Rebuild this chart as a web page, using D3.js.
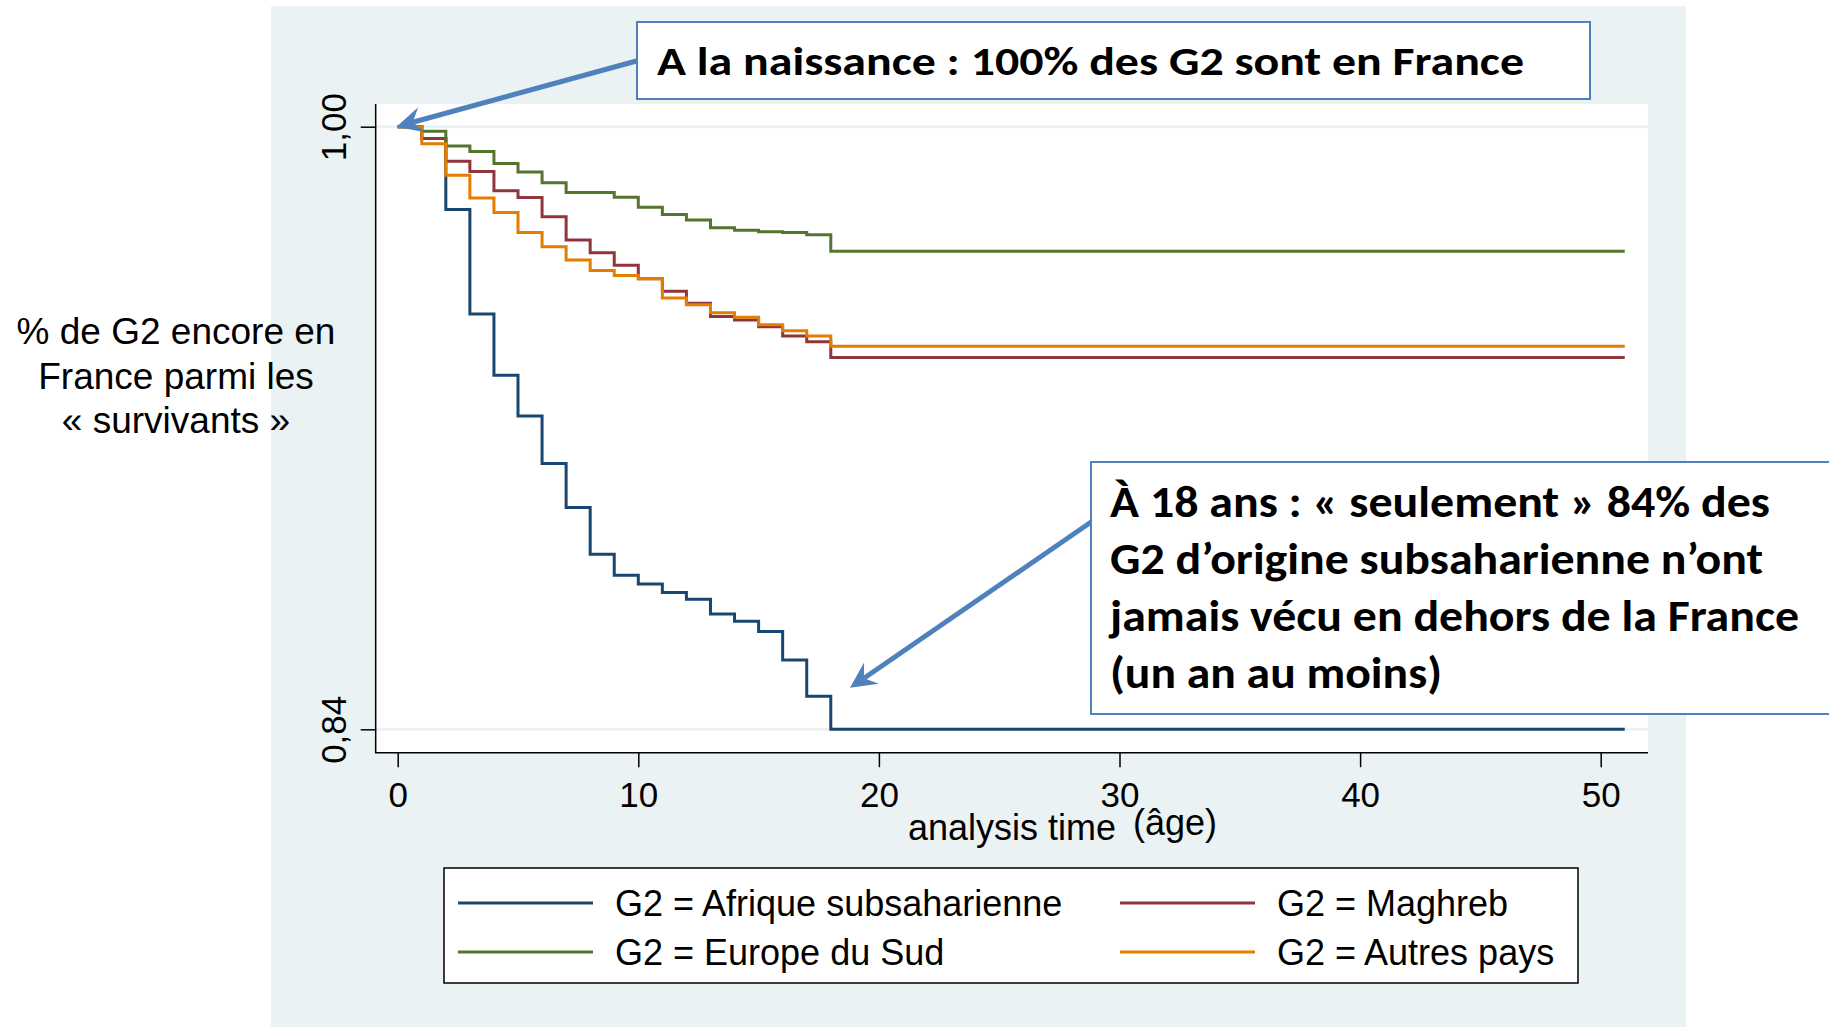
<!DOCTYPE html>
<html>
<head>
<meta charset="utf-8">
<script src="https://cdn.jsdelivr.net/npm/d3@7"></script>
<style>
  body { margin: 0; background: #ffffff; }
  svg { display: block; }
</style>
</head>
<body>
<svg id="chart" width="1829" height="1027"></svg>
<script>
// Kaplan-Meier style curves: share of G2 never lived outside France, by age

var ages = [0, 1, 2, 3, 4, 5, 6, 7, 8, 9, 10, 11, 12, 13, 14, 15, 16, 17, 18];
var lastAge = 51; // curves stay flat until here

var afrique   = [1, 0.9969, 0.9780, 0.9503, 0.9340, 0.9232, 0.9106, 0.8989, 0.8865, 0.8809, 0.8786, 0.8763, 0.8745, 0.8706, 0.8687, 0.8660, 0.8584, 0.8488, 0.8400];
var maghreb   = [1, 0.9969, 0.9908, 0.9881, 0.9830, 0.9812, 0.9761, 0.9699, 0.9665, 0.9632, 0.9596, 0.9563, 0.9531, 0.9496, 0.9487, 0.9469, 0.9444, 0.9429, 0.9387];
var europeSud = [1, 0.9988, 0.9949, 0.9934, 0.9902, 0.9880, 0.9851, 0.9825, 0.9825, 0.9813, 0.9786, 0.9767, 0.9752, 0.9732, 0.9725, 0.9721, 0.9719, 0.9713, 0.9669];
var autres    = [1, 0.9955, 0.9871, 0.9811, 0.9772, 0.9719, 0.9681, 0.9646, 0.9618, 0.9605, 0.9596, 0.9545, 0.9527, 0.9506, 0.9494, 0.9474, 0.9458, 0.9444, 0.9417];

var seriesNames  = ["G2 = Afrique subsaharienne", "G2 = Maghreb", "G2 = Europe du Sud", "G2 = Autres pays"];
var seriesValues = [afrique, maghreb, europeSud, autres];
var seriesColors = ["#1a476f", "#90353b", "#55752f", "#e37e00"];

var xTicks = [0, 10, 20, 30, 40, 50];
var yTicks = [0.84, 1.00];

var yTitle = ["% de G2 encore en", "France parmi les", "« survivants »"];
var note1 = "A la naissance : 100% des G2 sont en France";
var note2 = ["À 18 ans : « seulement » 84% des",
             "G2 d’origine subsaharienne n’ont",
             "jamais vécu en dehors de la France",
             "(un an au moins)"];

var BG = "#eaf2f3";
var NOTE_BLUE = "#4f81bd";
var STATA_FONT = "'Liberation Sans', Arial, Helvetica, sans-serif";
var NOTE_FONT = "Carlito, Calibri, 'Open Sans', sans-serif";

// plot region (white area of the Stata graph)
var PLOT_L = 375.7, PLOT_R = 1648, PLOT_T = 104, PLOT_B = 752.7;

var svg = d3.select("#chart");

var x = d3.scaleLinear().domain([0, 50]).range([397.7, 1600.7]);
var y = d3.scaleLinear().domain([0.84, 1.00]).range([729.3, 126.7]);

// graph region background
svg.append("rect")
    .attr("x", 271).attr("y", 6)
    .attr("width", 1686 - 271).attr("height", 1027 - 6)
    .attr("fill", BG);

svg.append("rect")
    .attr("x", PLOT_L).attr("y", PLOT_T)
    .attr("width", PLOT_R - PLOT_L).attr("height", PLOT_B - PLOT_T)
    .attr("fill", "#ffffff");

// gridlines at the labelled ticks
svg.append("g").selectAll("line")
    .data(yTicks)
    .enter()
    .append("line")
    .attr("x1", PLOT_L).attr("x2", PLOT_R)
    .attr("y1", function(d) { return y(d); })
    .attr("y2", function(d) { return y(d); })
    .attr("stroke", BG)
    .attr("stroke-width", 3);

// step curves
var stepLine = d3.line()
    .x(function(d) { return x(d[0]); })
    .y(function(d) { return y(d[1]); })
    .curve(d3.curveStepAfter);

svg.append("g").selectAll("path")
    .data(seriesValues)
    .enter()
    .append("path")
    .attr("d", function(vals) {
        var pts = ages.map(function(a, i) { return [a, vals[i]]; });
        pts.push([lastAge, vals[vals.length - 1]]);
        return stepLine(pts);
    })
    .attr("fill", "none")
    .attr("stroke", function(d, i) { return seriesColors[i]; })
    .attr("stroke-width", 3);

// axes
var yAxis = d3.axisLeft(y)
    .tickValues(yTicks)
    .tickSize(15)
    .tickFormat(function(d) { return d3.format(".2f")(d).replace(".", ","); });

var gy = svg.append("g")
    .attr("transform", "translate(" + PLOT_L + ",0)")
    .call(yAxis);
gy.select(".domain").remove();
gy.selectAll(".tick line").attr("stroke", "#000").attr("stroke-width", 1.5);
gy.selectAll(".tick text")
    .attr("transform", "rotate(-90)")
    .attr("x", 0).attr("y", -30).attr("dy", 0)
    .attr("text-anchor", "middle")
    .attr("fill", "#000")
    .style("font-family", STATA_FONT)
    .style("font-size", "35px");

var xAxis = d3.axisBottom(x)
    .tickValues(xTicks)
    .tickSize(14.5)
    .tickFormat(d3.format("d"));

var gx = svg.append("g")
    .attr("transform", "translate(0," + PLOT_B + ")")
    .call(xAxis);
gx.select(".domain").remove();
gx.selectAll(".tick line").attr("stroke", "#000").attr("stroke-width", 1.5);
gx.selectAll(".tick text")
    .attr("y", 54.5).attr("dy", 0)
    .attr("fill", "#000")
    .style("font-family", STATA_FONT)
    .style("font-size", "35px");

// axis lines span the whole plot region
svg.append("line")
    .attr("x1", PLOT_L).attr("x2", PLOT_L)
    .attr("y1", PLOT_T).attr("y2", PLOT_B)
    .attr("stroke", "#000").attr("stroke-width", 1.5);
svg.append("line")
    .attr("x1", PLOT_L - 0.75).attr("x2", PLOT_R)
    .attr("y1", PLOT_B).attr("y2", PLOT_B)
    .attr("stroke", "#000").attr("stroke-width", 1.5);

// x title (Stata) + added "(âge)"
svg.append("text")
    .attr("x", 908).attr("y", 840)
    .style("font-family", STATA_FONT).style("font-size", "36px")
    .text("analysis time");
svg.append("text")
    .attr("x", 1133).attr("y", 835)
    .style("font-family", STATA_FONT).style("font-size", "36px")
    .text("(âge)");

// y title, written on the slide
svg.append("g").selectAll("text")
    .data(yTitle)
    .enter()
    .append("text")
    .attr("x", 176)
    .attr("y", function(d, i) { return 344 + i * 44.5; })
    .attr("text-anchor", "middle")
    .style("font-family", STATA_FONT).style("font-size", "37px")
    .text(function(d) { return d; });

// legend
var legend = svg.append("g");
legend.append("rect")
    .attr("x", 444).attr("y", 868)
    .attr("width", 1578 - 444).attr("height", 983 - 868)
    .attr("fill", "#fff").attr("stroke", "#000").attr("stroke-width", 1.5);

var legendItems = legend.selectAll("g.item")
    .data(seriesNames)
    .enter()
    .append("g")
    .attr("class", "item")
    .attr("transform", function(d, i) {
        var col = i % 2, row = Math.floor(i / 2);
        return "translate(" + (col == 0 ? 458 : 1120) + "," + (903 + row * 49) + ")";
    });
legendItems.append("line")
    .attr("x1", 0).attr("x2", 135)
    .attr("stroke", function(d, i) { return seriesColors[i]; })
    .attr("stroke-width", 3);
legendItems.append("text")
    .attr("x", 157).attr("y", 13)
    .style("font-family", STATA_FONT).style("font-size", "36px")
    .text(function(d) { return d; });

// annotation arrows
function arrow(x0, y0, x1, y1) {
    var dx = x1 - x0, dy = y1 - y0;
    var len = Math.sqrt(dx * dx + dy * dy);
    var ux = dx / len, uy = dy / len;
    var nx = -uy, ny = ux;
    var L = 26, W = 13;
    var notchX = x1 - ux * L * 0.65, notchY = y1 - uy * L * 0.65;
    svg.append("line")
        .attr("x1", x0).attr("y1", y0)
        .attr("x2", notchX).attr("y2", notchY)
        .attr("stroke", NOTE_BLUE).attr("stroke-width", 5);
    svg.append("path")
        .attr("d", "M" + x1 + "," + y1 +
                   "L" + (x1 - ux * L + nx * W) + "," + (y1 - uy * L + ny * W) +
                   "L" + notchX + "," + notchY +
                   "L" + (x1 - ux * L - nx * W) + "," + (y1 - uy * L - ny * W) + "Z")
        .attr("fill", NOTE_BLUE);
}

arrow(640, 60, x(-0.05), y(1.0));
arrow(1094, 520, x(18.8), y(0.851));

// annotation boxes
svg.append("rect")
    .attr("x", 637).attr("y", 22)
    .attr("width", 1590 - 637).attr("height", 77)
    .attr("fill", "#fff").attr("stroke", NOTE_BLUE).attr("stroke-width", 2);
svg.append("text")
    .attr("x", 657).attr("y", 75)
    .attr("textLength", 867).attr("lengthAdjust", "spacingAndGlyphs")
    .style("font-family", NOTE_FONT).style("font-weight", "bold").style("font-size", "41px")
    .text(note1);

svg.append("rect")
    .attr("x", 1091).attr("y", 462)
    .attr("width", 760).attr("height", 714 - 462)
    .attr("fill", "#fff").attr("stroke", NOTE_BLUE).attr("stroke-width", 2);

var note2Len = [660, 653, 689, 332];
svg.append("g").selectAll("text")
    .data(note2)
    .enter()
    .append("text")
    .attr("x", 1110)
    .attr("y", function(d, i) { return 517 + i * 57; })
    .attr("textLength", function(d, i) { return note2Len[i]; })
    .attr("lengthAdjust", "spacingAndGlyphs")
    .style("font-family", NOTE_FONT).style("font-weight", "bold").style("font-size", "44px")
    .text(function(d) { return d; });
</script>
</body>
</html>
